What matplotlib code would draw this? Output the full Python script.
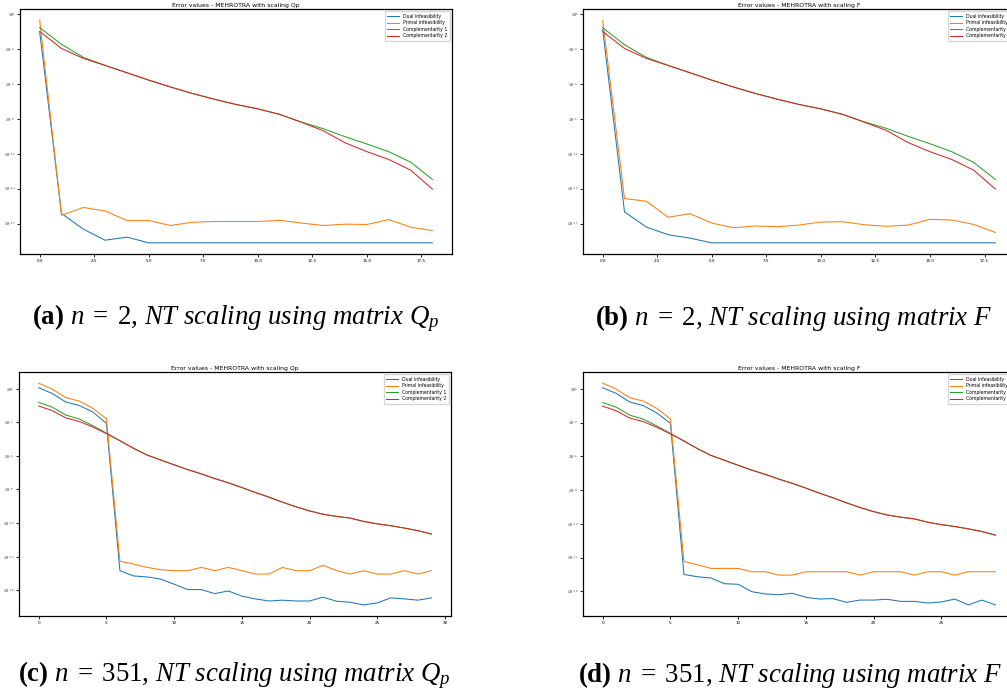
import matplotlib
matplotlib.use('Agg')
import matplotlib.pyplot as plt
import matplotlib.ticker as ticker
import numpy as np

plt.rcParams['mathtext.fontset'] = 'cm'
plt.rcParams['mathtext.rm'] = 'Liberation Serif'
plt.rcParams['mathtext.it'] = 'Liberation Serif:italic'
plt.rcParams['mathtext.bf'] = 'Liberation Serif:bold'

# Iterations
iters_small = list(range(19))
iters_large = list(range(30))

# (a) n = 2, scaling Qp
dual_a = [0.30, 7.4e-17, 3.3e-18, 3.7e-19, 6.8e-19, 2.2e-19, 2.2e-19, 2.2e-19, 2.2e-19, 2.2e-19,
          2.2e-19, 2.2e-19, 2.2e-19, 2.2e-19, 2.2e-19, 2.2e-19, 2.2e-19, 2.2e-19, 2.2e-19]
primal_a = [3.0, 5.2e-17, 2.4e-16, 1.2e-16, 1.8e-17, 1.8e-17, 6.8e-18, 1.3e-17, 1.5e-17, 1.5e-17,
            1.5e-17, 1.9e-17, 1.1e-17, 6.8e-18, 8.9e-18, 8.3e-18, 2.2e-17, 4.9e-18, 2.5e-18]
comp1_a = [0.67, 2.5e-2, 1.9e-3, 3.9e-4, 9.1e-5, 2.1e-5, 5.4e-6, 1.5e-6, 4.9e-7, 1.7e-7,
           7.2e-8, 2.4e-8, 5.2e-9, 1.4e-9, 2.9e-10, 6.8e-11, 1.5e-11, 1.9e-12, 6.2e-14]
comp2_a = [0.32, 1.1e-2, 1.55e-3, 3.8e-4, 9.0e-5, 2.1e-5, 5.3e-6, 1.5e-6, 4.8e-7, 1.7e-7,
           7.1e-8, 2.4e-8, 5.0e-9, 9.3e-10, 8.7e-11, 1.5e-11, 3.2e-12, 3.9e-13, 9.1e-15]

# (b) n = 2, scaling F
dual_b = [0.47, 1.0e-16, 5.0e-18, 1.1e-18, 5.6e-19, 2.2e-19, 2.2e-19, 2.2e-19, 2.2e-19, 2.2e-19,
          2.2e-19, 2.2e-19, 2.2e-19, 2.2e-19, 2.2e-19, 2.2e-19, 2.2e-19, 2.2e-19, 2.2e-19]
primal_b = [3.0, 1.4e-15, 8.3e-16, 3.5e-17, 7.1e-17, 1.1e-17, 4.4e-18, 6.2e-18, 5.4e-18, 7.4e-18,
            1.35e-17, 1.45e-17, 7.9e-18, 5.8e-18, 7.4e-18, 2.3e-17, 2.0e-17, 8.5e-18, 1.7e-18]
comp1_b = [0.67, 2.3e-2, 1.9e-3, 3.9e-4, 9.1e-5, 2.1e-5, 5.4e-6, 1.5e-6, 4.9e-7, 1.7e-7,
           7.2e-8, 2.4e-8, 5.4e-9, 1.5e-9, 3.1e-10, 7.2e-11, 1.5e-11, 1.8e-12, 6.2e-14]
comp2_b = [0.32, 1.1e-2, 1.55e-3, 3.8e-4, 9.0e-5, 2.1e-5, 5.3e-6, 1.5e-6, 4.8e-7, 1.7e-7,
           7.1e-8, 2.4e-8, 5.0e-9, 1.0e-9, 9.0e-11, 1.5e-11, 3.2e-12, 3.9e-13, 9.1e-15]

# (c) n = 351, scaling Qp
dual_c = [1.23, 0.38, 6.5e-2, 3.2e-2, 8.3e-3, 8.1e-4, 5.6e-17, 1.9e-17, 1.55e-17, 1.0e-17,
          3.5e-18, 1.15e-18, 1.15e-18, 5.0e-19, 8.7e-19, 3.0e-19, 1.7e-19, 1.1e-19, 1.3e-19, 1.1e-19,
          1.1e-19, 2.4e-19, 1.05e-19, 8.5e-20, 4.9e-20, 7.4e-20, 2.1e-19, 1.7e-19, 1.3e-19, 2.1e-19]
primal_c = [3.16, 0.93, 0.16, 7.9e-2, 1.8e-2, 2.1e-3, 3.9e-16, 2.2e-16, 1.1e-16, 6.9e-17,
            5.6e-17, 5.6e-17, 1.1e-16, 5.6e-17, 1.1e-16, 5.6e-17, 2.8e-17, 2.8e-17, 1.1e-16, 5.6e-17,
            5.6e-17, 1.7e-16, 5.6e-17, 2.8e-17, 5.6e-17, 2.8e-17, 2.8e-17, 5.6e-17, 2.8e-17, 5.6e-17]
comp1_c = [6.0e-2, 2.3e-2, 4.5e-3, 2.0e-3, 5.0e-4, 1.1e-4, 2.3e-5, 4.8e-6, 1.2e-6, 4.4e-7,
           1.6e-7, 6.0e-8, 2.5e-8, 9.5e-9, 4.0e-9, 1.5e-9, 5.4e-10, 2.1e-10, 7.4e-11, 2.9e-11,
           1.26e-11, 6.3e-12, 4.0e-12, 2.8e-12, 1.4e-12, 8.7e-13, 5.8e-13, 3.6e-13, 2.1e-13, 1.05e-13]
comp2_c = [2.9e-2, 1.1e-2, 2.5e-3, 1.2e-3, 3.8e-4, 9.8e-5, 2.3e-5, 4.8e-6, 1.2e-6, 4.4e-7,
           1.6e-7, 6.0e-8, 2.5e-8, 9.5e-9, 4.0e-9, 1.5e-9, 5.4e-10, 2.1e-10, 7.4e-11, 2.8e-11,
           1.2e-11, 6.1e-12, 3.9e-12, 2.8e-12, 1.4e-12, 8.5e-13, 5.8e-13, 3.6e-13, 2.1e-13, 1.05e-13]

# (d) n = 351, scaling F
dual_d = [1.23, 0.39, 6.6e-2, 3.2e-2, 7.1e-3, 8.5e-4, 3.2e-17, 2.0e-17, 1.55e-17, 4.8e-18,
          4.3e-18, 9.5e-19, 5.9e-19, 5.1e-19, 6.8e-19, 3.0e-19, 2.1e-19, 2.3e-19, 1.07e-19, 1.7e-19,
          1.7e-19, 2.0e-19, 1.3e-19, 1.3e-19, 9.3e-20, 1.15e-19, 2.1e-19, 6.3e-20, 1.7e-19, 6.3e-20]
primal_d = [3.16, 0.93, 0.16, 8.1e-2, 1.8e-2, 2.1e-3, 4.6e-16, 2.3e-16, 1.1e-16, 1.1e-16,
            1.1e-16, 5.6e-17, 5.6e-17, 2.8e-17, 2.8e-17, 5.6e-17, 5.6e-17, 5.6e-17, 5.6e-17, 2.8e-17,
            5.6e-17, 5.6e-17, 5.6e-17, 2.8e-17, 5.6e-17, 5.6e-17, 2.8e-17, 5.6e-17, 5.6e-17, 5.6e-17]
comp1_d = [6.0e-2, 2.3e-2, 4.5e-3, 2.0e-3, 5.0e-4, 1.1e-4, 2.3e-5, 4.8e-6, 1.2e-6, 4.4e-7,
           1.6e-7, 6.0e-8, 2.5e-8, 9.5e-9, 4.0e-9, 1.5e-9, 5.4e-10, 2.1e-10, 7.4e-11, 2.9e-11,
           1.26e-11, 6.3e-12, 4.0e-12, 2.8e-12, 1.4e-12, 8.7e-13, 5.8e-13, 3.6e-13, 2.1e-13, 1.0e-13]
comp2_d = [2.9e-2, 1.1e-2, 2.5e-3, 1.2e-3, 3.8e-4, 9.8e-5, 2.3e-5, 4.8e-6, 1.2e-6, 4.4e-7,
           1.6e-7, 6.0e-8, 2.5e-8, 9.5e-9, 4.0e-9, 1.5e-9, 5.4e-10, 2.1e-10, 7.4e-11, 2.8e-11,
           1.2e-11, 6.1e-12, 3.9e-12, 2.8e-12, 1.4e-12, 8.5e-13, 5.8e-13, 3.6e-13, 2.1e-13, 1.0e-13]

labels = ['Dual infeasibility', 'Primal infeasibility', 'Complementarity 1', 'Complementarity 2']
yticks_small = [1e1, 1e-2, 1e-5, 1e-8, 1e-11, 1e-14, 1e-17]
yticks_large = [1e0, 1e-3, 1e-6, 1e-9, 1e-12, 1e-15, 1e-18]
xticks_small = [0.0, 2.5, 5.0, 7.5, 10.0, 12.5, 15.0, 17.5]
xticks_large = [0, 5, 10, 15, 20, 25, 30]


def log_label(v, pos):
    return f'$10^{{{int(round(np.log10(v)))}}}$'


def plot_panel(ax, x, series, title, xticks, yticks):
    for values, label in zip(series, labels):
        ax.plot(x, values, lw=0.75, label=label)

    # Title
    ax.set_title(title, fontsize=4.4, pad=1.5)

    # Axes
    ax.set_yscale('log')
    ax.set_yticks(yticks)
    ax.yaxis.set_major_formatter(ticker.FuncFormatter(log_label))
    ax.yaxis.set_minor_locator(ticker.NullLocator())
    ax.set_xticks(xticks)
    ax.tick_params(labelsize=3.0, length=2, width=0.6, pad=1.5)
    for spine in ax.spines.values():
        spine.set_linewidth(0.9)

    # Legend
    ax.legend(loc='upper right', fontsize=3.3, handlelength=2.7, borderpad=0.5,
              labelspacing=0.35, framealpha=0.8, fancybox=True)


fig = plt.figure(figsize=(10.07, 6.97), dpi=100)

ax_a = fig.add_axes([0.0199, 0.6356, 0.429, 0.3515])
ax_b = fig.add_axes([0.579, 0.6356, 0.429, 0.3515])
ax_c = fig.add_axes([0.0189, 0.1162, 0.429, 0.350])
ax_d = fig.add_axes([0.579, 0.1162, 0.429, 0.350])

plot_panel(ax_a, iters_small, [dual_a, primal_a, comp1_a, comp2_a],
           'Error values - MEHROTRA with scaling Qp', xticks_small, yticks_small)
plot_panel(ax_b, iters_small, [dual_b, primal_b, comp1_b, comp2_b],
           'Error values - MEHROTRA with scaling F', xticks_small, yticks_small)
plot_panel(ax_c, iters_large, [dual_c, primal_c, comp1_c, comp2_c],
           'Error values - MEHROTRA with scaling Qp', xticks_large, yticks_large)
plot_panel(ax_d, iters_large, [dual_d, primal_d, comp1_d, comp2_d],
           'Error values - MEHROTRA with scaling F', xticks_large, yticks_large)

# Captions
captions = [
    (236, 318, r'$\mathbf{(a)}$ $n\;=\;2$, $\mathit{NT\ scaling\ using\ matrix}$ $Q_p$'),
    (794, 318, r'$\mathbf{(b)}$ $n\;=\;2$, $\mathit{NT\ scaling\ using\ matrix}$ $F$'),
    (234, 675, r'$\mathbf{(c)}$ $n\;=\;351$, $\mathit{NT\ scaling\ using\ matrix}$ $Q_p$'),
    (790, 675, r'$\mathbf{(d)}$ $n\;=\;351$, $\mathit{NT\ scaling\ using\ matrix}$ $F$'),
]
for px, py, text in captions:
    fig.text(px / 1007, 1 - py / 697, text, ha='center', va='center', fontsize=19.4,
             family='Liberation Serif', math_fontfamily='custom')

fig.savefig('out.png', dpi=100)
